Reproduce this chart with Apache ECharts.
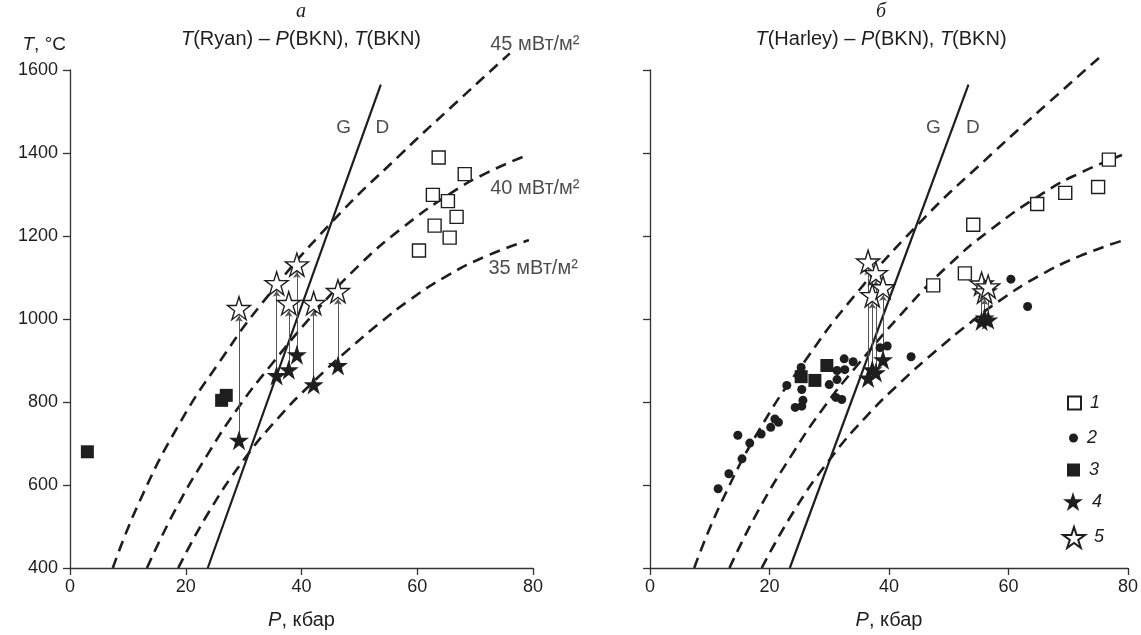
<!DOCTYPE html>
<html><head><meta charset="utf-8">
<script src="https://cdn.jsdelivr.net/npm/echarts/dist/echarts.min.js"></script>
<style>html,body{margin:0;padding:0;background:#fff}#c{width:1141px;height:635px}</style>
</head><body><div id="c"></div>
<script>
// ---------- data ----------
const xTicks = [0, 20, 40, 60, 80];
const yTicks = [400, 600, 800, 1000, 1200, 1400, 1600];
// geotherms (P kbar, T °C)
const geo45 = [[7.4,400],[12,560],[19,750],[26,900],[33.3,1040],[45,1230],[57,1395],[67,1525],[76,1640]];
const geo40 = [[13.3,400],[18,535],[23.7,672],[29,785],[34.5,885],[43.2,1030],[50,1130],[57,1215],[66,1305],[72,1352],[79,1395]];
const geo35 = [[18.7,400],[24,535],[30,660],[36,762],[42,848],[48,925],[53.5,990],[58.6,1045],[65,1103],[72,1152],[79.3,1190]];
// graphite-diamond line
const gdLeft = [[23.8,400],[53.7,1565]];
const gdRight = [[23.4,400],[53.3,1565]];
const curveLabels = [[72.6,1662,'45 мВт/м²'],[72.6,1315,'40 мВт/м²'],[72.3,1122,'35 мВт/м²']];
const gdLabelsLeft = [[46.0,1461,'G'],[52.8,1461,'D']];
const gdLabelsRight = [[46.2,1461,'G'],[52.9,1461,'D']];
// panel a
const leftOpenSquares = [[63.7,1389],[68.2,1349],[62.7,1299],[65.3,1284],[66.8,1246],[63.0,1225],[65.6,1196],[60.3,1165]];
const leftFilledSquares = [[27,816],[26.2,804],[3,680]];
// star pairs: [P, T filled (4), T open (5)]
const leftStarPairs = [[29.2,708,1026],[35.7,864,1086],[37.8,878,1038],[39.2,914,1131],[42.1,842,1038],[46.3,888,1067]];
// panel b
const rightOpenSquares = [[47.4,1081],[52.7,1110],[54.1,1227],[64.8,1277],[69.5,1304],[75,1318],[76.8,1384]];
const rightDots = [[11.4,591],[13.2,627],[15.4,663],[14.7,720],[16.7,701],[18.6,723],[20.2,739],[20.9,759],[21.5,751],[22.9,840],[24.3,787],[25.4,790],[25.6,804],[25.4,830],[25.3,883],[30.0,842],[31.1,811],[32.1,806],[31.3,854],[31.3,876],[32.5,904],[32.6,878],[34.0,897],[38.5,931],[39.7,935],[43.7,909],[60.4,1096],[63.2,1030]];
const rightFilledSquares = [[25.3,861],[27.6,852],[29.6,888]];
const rightStarPairs = [[36.5,858,1138],[37.2,878,1057],[37.8,871,1110],[39.0,902,1076],[55.5,995,1085],[56.0,1003,1066],[56.6,998,1078]];

// ---------- styles ----------
const FONT = 'Liberation Sans, Arial, sans-serif';
const INK = '#1e1e1e';
const STAR = 'path://M50 0 L61.23 34.55 L97.55 34.55 L68.16 55.9 L79.39 90.45 L50 69.1 L20.61 90.45 L31.84 55.9 L2.45 34.55 L38.77 34.55 Z';
const ARROW_GAP = 18;
const richOf = size => ({ i: { fontStyle: 'italic', fontFamily: FONT, fontSize: size, color: INK } });

function xAxis(grid) {
  return {
    gridIndex: grid, type: 'value', min: 0, max: 80, interval: 20,
    axisLine: { show: true, onZero: false, lineStyle: { color: '#333', width: 1.3 } },
    axisTick: { show: true, length: 7, lineStyle: { color: '#333', width: 1.3 } },
    splitLine: { show: false },
    axisLabel: { fontSize: 18, color: INK, fontFamily: FONT, margin: 10,
      formatter: v => xTicks.includes(v) ? String(v) : '' },
    name: '{i|P}, кбар', nameLocation: 'middle', nameGap: 42,
    nameTextStyle: { fontSize: 20, color: INK, fontFamily: FONT, rich: richOf(20) }
  };
}
function yAxis(grid, labels) {
  const a = {
    gridIndex: grid, type: 'value', min: 400, max: 1600, interval: 200,
    axisLine: { show: true, onZero: false, lineStyle: { color: '#333', width: 1.3 } },
    axisTick: { show: true, length: 7, lineStyle: { color: '#333', width: 1.3 } },
    splitLine: { show: false },
    axisLabel: { show: labels, fontSize: 18, color: INK, fontFamily: FONT, margin: 12,
      formatter: v => yTicks.includes(v) ? String(v) : '' }
  };
  if (labels) {
    a.name = '{i|T}, °C';
    a.nameLocation = 'end';
    a.nameGap = 16;
    a.nameTextStyle = { fontSize: 19, color: INK, fontFamily: FONT, align: 'right', padding: [0, 4, 0, 0], rich: richOf(19) };
  }
  return a;
}
function geoSeries(data, g) {
  return { type: 'line', data, xAxisIndex: g, yAxisIndex: g, smooth: 0.5,
    showSymbol: false, clip: false, silent: true, z: 2,
    lineStyle: { color: INK, width: 2.6, type: [11, 7] } };
}
function gdSeries(data, g) {
  return { type: 'line', data, xAxisIndex: g, yAxisIndex: g, showSymbol: false, clip: false, silent: true, z: 2,
    lineStyle: { color: INK, width: 2.2 } };
}
function textSeries(data, g, size) {
  return { type: 'scatter', data, xAxisIndex: g, yAxisIndex: g, symbolSize: 0, silent: true, clip: false, z: 3,
    label: { show: true, position: 'inside', align: 'left', verticalAlign: 'middle',
      formatter: p => p.data[2], fontSize: size, color: INK, fontFamily: FONT } };
}
function arrows(pairs, g) {
  return { type: 'lines', coordinateSystem: 'cartesian2d', xAxisIndex: g, yAxisIndex: g, silent: true, z: 3,
    symbol: ['none', 'arrow'], symbolSize: 6,
    lineStyle: { color: '#555', width: 1, opacity: 1, curveness: 0 },
    data: pairs.map(p => ({ coords: [[p[0], p[1]], [p[0], p[2] - ARROW_GAP]] })) };
}
function scatter(name, data, g, symbol, size, fill, border, z) {
  return { type: 'scatter', name, data, xAxisIndex: g, yAxisIndex: g, symbol, symbolSize: size, z: z || 5,
    itemStyle: { color: fill, borderColor: border, borderWidth: border ? 1.4 : 0, opacity: 1 } };
}
function legend(name, left, top, w, h) {
  return { data: [name], left, top, itemWidth: w, itemHeight: h, padding: 0, selectedMode: false,
    textStyle: { fontSize: 18, fontStyle: 'italic', color: INK, fontFamily: FONT, padding: [0, 0, 0, 4] } };
}

const series = [];
[0, 1].forEach(g => {
  series.push(geoSeries(geo45, g), geoSeries(geo40, g), geoSeries(geo35, g));
  series.push(gdSeries(g === 0 ? gdLeft : gdRight, g));
  series.push(textSeries(g === 0 ? gdLabelsLeft : gdLabelsRight, g, 19));
});
series.push(textSeries(curveLabels, 0, 20));
// panel a marks
series.push(arrows(leftStarPairs, 0));
series.push(scatter('1', leftOpenSquares, 0, 'rect', 13, '#fff', INK));
series.push(scatter('3', leftFilledSquares, 0, 'rect', 13, INK, null));
series.push(scatter('4', leftStarPairs.map(p => [p[0], p[1]]), 0, STAR, 20, INK, null, 6));
series.push(scatter('5', leftStarPairs.map(p => [p[0], p[2]]), 0, STAR, 23, '#fff', INK, 6));
// panel b marks
series.push(arrows(rightStarPairs, 1));
series.push(scatter('1', rightOpenSquares, 1, 'rect', 13, '#fff', INK));
series.push(scatter('2', rightDots, 1, 'circle', 9, INK, null));
series.push(scatter('3', rightFilledSquares, 1, 'rect', 13, INK, null));
series.push(scatter('4', rightStarPairs.map(p => [p[0], p[1]]), 1, STAR, 20, INK, null, 6));
series.push(scatter('5', rightStarPairs.map(p => [p[0], p[2]]), 1, STAR, 23, '#fff', INK, 6));

const chart = echarts.init(document.getElementById('c'), null, { renderer: 'canvas' });
chart.setOption({
  animation: false,
  backgroundColor: '#fff',
  grid: [
    { left: 70, top: 70, width: 463, height: 506 },
    { left: 650, top: 70, width: 478, height: 506 }
  ],
  xAxis: [xAxis(0), xAxis(1)],
  yAxis: [yAxis(0, true), yAxis(1, false)],
  legend: [
    legend('1', 1067, 394, 13, 13),
    legend('2', 1069, 429, 9, 9),
    legend('3', 1067, 461, 13, 13),
    legend('4', 1063, 492, 20, 20),
    legend('5', 1062, 526, 22, 22)
  ],
  graphic: [
    { type: 'text', x: 301, y: 12, style: { text: 'а', font: 'italic 20px "Liberation Serif", serif', fill: INK, align: 'center', verticalAlign: 'middle' } },
    { type: 'text', x: 301, y: 39, style: { text: '{i|T}(Ryan) – {i|P}(BKN), {i|T}(BKN)', font: '20px ' + FONT, fill: INK, align: 'center', verticalAlign: 'middle', rich: richOf(20) } },
    { type: 'text', x: 881, y: 12, style: { text: 'б', font: 'italic 20px "Liberation Serif", serif', fill: INK, align: 'center', verticalAlign: 'middle' } },
    { type: 'text', x: 881, y: 39, style: { text: '{i|T}(Harley) – {i|P}(BKN), {i|T}(BKN)', font: '20px ' + FONT, fill: INK, align: 'center', verticalAlign: 'middle', rich: richOf(20) } }
  ],
  series
});
</script></body></html>
